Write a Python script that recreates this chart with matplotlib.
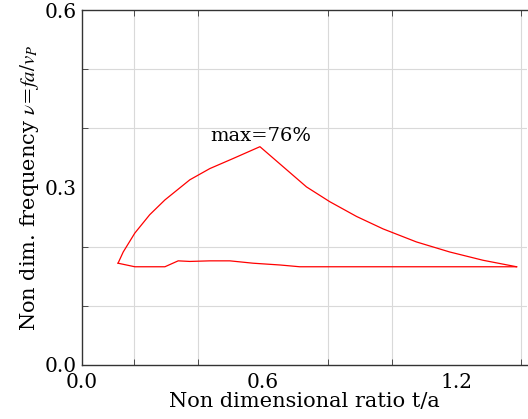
import matplotlib
matplotlib.use("Agg")
import matplotlib.pyplot as plt
import numpy as np

plt.rcParams['font.family'] = ['DejaVu Serif']
plt.rcParams['mathtext.fontset'] = 'stix'

# upper branch of the gap
upper_x = [0.152, 0.168, 0.204, 0.250, 0.297, 0.374, 0.436, 0.508, 0.591,
           0.663, 0.735, 0.807, 0.890, 0.972, 1.075, 1.178, 1.281, 1.385]
upper_y = [0.172, 0.191, 0.223, 0.254, 0.279, 0.313, 0.332, 0.349, 0.369,
           0.335, 0.301, 0.276, 0.251, 0.230, 0.208, 0.191, 0.177, 0.166]

# lower branch
lower_x = [0.152, 0.204, 0.297, 0.338, 0.374, 0.436, 0.498, 0.570, 0.653, 0.714, 1.385]
lower_y = [0.172, 0.166, 0.166, 0.176, 0.175, 0.176, 0.176, 0.172, 0.169, 0.166, 0.166]

x_ticks = [0.04, 0.6, 1.2]
x_ticklabels = ["0.0", "0.6", "1.2"]
y_ticks = [0.0, 0.3, 0.6]
y_ticklabels = ["0.0", "0.3", "0.6"]

fig = plt.figure(figsize=(5.28, 4.19), dpi=100)
ax = fig.add_axes([0.155, 0.129, 0.843, 0.847])

ax.plot(upper_x, upper_y, color='red', linewidth=0.9)
ax.plot(lower_x, lower_y, color='red', linewidth=0.9)

ax.set_xlim(0.04, 1.417)
ax.set_ylim(0.0, 0.6)

# grid on 0.2 / 0.1 steps
ax.set_xticks(np.arange(0.2, 1.41, 0.2), minor=True)
ax.set_yticks(np.arange(0.1, 0.6, 0.1), minor=True)
ax.grid(True, which='minor', color='#d9d9d9', linewidth=0.8)

ax.set_xticks(x_ticks)
ax.set_xticklabels(x_ticklabels)
ax.set_yticks(y_ticks)
ax.set_yticklabels(y_ticklabels)

ax.tick_params(which='both', direction='in', top=True, right=False,
               length=4, color='#333333', labelsize=14.5)
ax.tick_params(which='major', length=0)
ax.tick_params(axis='x', which='major', pad=6)
ax.tick_params(axis='y', which='major', pad=4)

for s in ax.spines.values():
    s.set_color('#333333')
    s.set_linewidth(1.0)
ax.spines['right'].set_visible(False)

ax.text(0.436, 0.387, "max=76%", fontsize=14, va='center', ha='left')

ax.set_xlabel("Non dimensional ratio t/a", fontsize=15, labelpad=0)
ax.set_ylabel(r"Non dim. frequency $\nu$=$fa/v_P$", fontsize=15, labelpad=2)

fig.savefig("out.png", dpi=100)
